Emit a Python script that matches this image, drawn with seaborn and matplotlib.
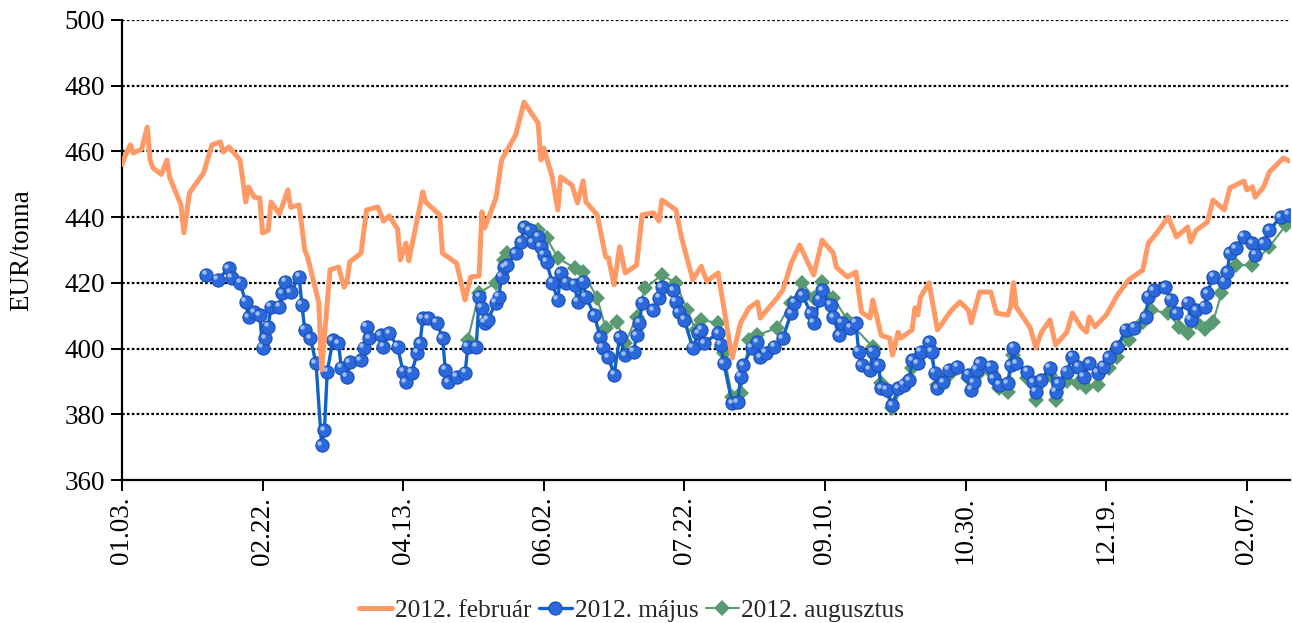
import matplotlib
matplotlib.use("Agg")
import matplotlib.pyplot as plt
import matplotlib.dates as mdates
import matplotlib.transforms as mtransforms
import pandas as pd
import seaborn as sns

# napok 2011.01.03. óta
base_date = pd.Timestamp("2011-01-03")

feb_days = [0, 1, 3, 4, 7, 9, 10, 11, 14, 16, 17, 21, 22, 24, 29, 32, 35, 36, 38, 42,
            44, 45, 47, 49, 50, 52, 53, 56, 59, 60, 63, 65, 66, 70, 71, 74, 77, 79, 80, 81,
            85, 87, 91, 93, 95, 98, 99, 101, 102, 107, 108, 113, 114, 119, 122, 124, 127, 128, 129, 133,
            135, 138, 140, 143, 148, 149, 150, 153, 155, 156, 160, 162, 164, 165, 169, 172, 173, 175, 177, 179,
            183, 185, 189, 191, 192, 197, 199, 203, 206, 208, 212, 217, 220, 223, 226, 227, 230, 233, 235, 238,
            241, 246, 249, 253, 254, 256, 258, 261, 263, 266, 267, 270, 273, 274, 276, 277, 281, 282, 283, 284,
            287, 290, 295, 298, 301, 302, 305, 309, 311, 315, 316, 317, 318, 323, 325, 327, 330, 332, 336, 338,
            341, 343, 344, 346, 350, 354, 358, 363, 365, 368, 372, 375, 379, 380, 382, 386, 388, 392, 394, 399,
            400, 402, 403, 406, 408, 413, 415]
feb_values = [456, 458.4, 462, 459.5, 460.7, 467.4, 457.4, 455, 453, 457.4, 452, 443.7, 435.2, 447.4, 453.4, 462, 462.9, 459.8, 461.4, 457.4,
              444.6, 449.2, 446.1, 445.8, 435.2, 436, 444.6, 441, 448.3, 443, 443.7, 430, 427.9, 414, 393.5, 424, 424.8, 418.7, 420.3, 426.4,
              429, 442.2, 443.1, 438.8, 440.4, 436.4, 427, 432.1, 426.7, 447.7, 444.6, 440.7, 429, 426, 414.8, 421.8, 422.1, 441.6, 436.7, 445.8,
              457.4, 462, 465, 475, 468.6, 457.4, 461, 452.2, 442.2, 452.2, 449.8, 444.3, 451, 444.6, 440.7, 427.9, 427.6, 419.4, 431, 423,
              425.4, 440.7, 441.3, 438.8, 445.2, 442.2, 433.7, 421, 425, 420.5, 423, 397.1, 407.8, 412.4, 414.2, 409.3, 412.4, 415.4, 417.8, 426,
              431.5, 422.4, 433, 429, 424.8, 423.3, 421.8, 423.3, 411.1, 409.3, 414.8, 404, 403.2, 398, 405, 403.2, 405.7, 412.4, 410.2, 415.7,
              420, 405.7, 411.7, 414.2, 411.7, 407.8, 417.2, 417.2, 410.8, 410.2, 412.7, 420, 412.7, 406.3, 400.2, 405, 408.7, 401.1, 405, 410.8,
              406.6, 405, 409.6, 406.6, 410.2, 416.3, 420.9, 423.9, 432.1, 435.2, 440, 434, 437, 432.4, 436, 438.5, 445.2, 442.2, 448.9, 451,
              448.3, 449.2, 446.1, 449.2, 453.7, 458, 457.1]

may_days = [30, 34, 38, 39, 42, 44, 45, 47, 49, 50, 51, 52, 53, 56, 57, 58, 60, 63, 64, 65,
            67, 69, 71, 72, 73, 75, 77, 78, 80, 81, 85, 86, 87, 88, 92, 93, 95, 98, 100, 101,
            103, 105, 106, 107, 109, 112, 114, 115, 116, 119, 122, 123, 126, 127, 128, 129, 130, 133, 134, 135,
            136, 137, 140, 142, 143, 145, 146, 148, 149, 150, 151, 153, 155, 156, 158, 161, 162, 164, 165, 168,
            170, 171, 173, 175, 177, 179, 182, 183, 184, 185, 189, 191, 192, 196, 197, 198, 200, 203, 205, 206,
            207, 212, 213, 214, 217, 219, 220, 221, 224, 226, 227, 229, 232, 235, 238, 239, 242, 245, 246, 248,
            249, 252, 253, 255, 256, 259, 261, 262, 263, 266, 267, 269, 270, 272, 274, 276, 278, 280, 281, 283,
            284, 287, 288, 289, 290, 292, 294, 297, 301, 302, 303, 304, 305, 309, 310, 312, 315, 316, 317, 318,
            322, 324, 325, 327, 330, 332, 333, 336, 338, 340, 342, 344, 347, 349, 351, 354, 357, 360, 364, 365,
            367, 371, 373, 375, 379, 380, 382, 385, 386, 388, 392, 393, 394, 396, 399, 402, 403, 406, 408, 412,
            415]
may_values = [422.4, 420.9, 424.5, 421.5, 420, 414.2, 409.6, 411.1, 410.2, 400.2, 403.2, 406.6, 412.7, 412.7, 416.9, 420.3, 417.2, 421.8, 413.3, 405.7,
              403.2, 395.6, 370.6, 375.2, 392.9, 402.6, 401.7, 394.1, 391.4, 395.9, 396.5, 400.2, 406.6, 403.2, 404.1, 400.5, 404.7, 400.5, 392.9, 389.8,
              392.6, 398.7, 401.7, 409.3, 409.3, 407.8, 403.2, 393.5, 389.8, 391.4, 392.6, 400.5, 400.5, 415.7, 412.4, 407.8, 408.7, 413.9, 415.7, 421.8,
              424.8, 425.4, 429, 432.4, 437, 436, 432.4, 434, 431, 428.5, 426.4, 420, 414.8, 423, 420, 419.4, 414.2, 420.3, 415.7, 410.2,
              403.5, 400.2, 397.4, 392, 403.5, 398, 399, 404.1, 407.8, 413.9, 411.7, 415.4, 418.7, 417.8, 414.2, 411.1, 408.7, 400.2, 404.7, 405.7,
              401.7, 404.7, 401.1, 395.6, 383.4, 383.7, 391.4, 395, 400.2, 402, 397.4, 398.7, 400.5, 403.2, 410.8, 413.9, 416.3, 410.8, 407.8, 414.8,
              417.8, 413.3, 409.6, 404.1, 407.8, 406.3, 407.8, 399, 395, 393.5, 399, 395, 388, 387.4, 382.8, 388, 389, 390.4, 396.5, 395.6,
              399, 402, 399, 392.6, 388, 389.8, 393.5, 394.4, 392, 387.4, 389.8, 393.5, 395.6, 394.4, 391, 389, 389.5, 395, 400.2, 395.6,
              392.9, 389.8, 386.8, 390.4, 394.1, 386.8, 389.5, 393, 397.5, 394.5, 391.4, 395.6, 392.6, 394.4, 397.4, 400.5, 405.7, 406.3, 409.6, 415.7,
              417.8, 418.7, 414.8, 410.8, 413.9, 408.7, 411.7, 412.7, 416.9, 421.8, 420.3, 423.3, 429, 430.6, 434, 432.1, 428.5, 432.1, 436, 440,
              440.7]

aug_days = [123, 127, 133, 136, 137, 148, 151, 155, 161, 164, 169, 172, 176, 179, 183, 186, 192, 197, 201, 204,
            206, 212, 214, 217, 220, 223, 226, 233, 238, 242, 246, 249, 253, 258, 267, 270, 274, 278, 281, 284,
            287, 290, 294, 297, 301, 304, 309, 312, 315, 317, 322, 325, 330, 332, 336, 340, 343, 347, 351, 354,
            358, 363, 366, 372, 376, 379, 382, 385, 388, 391, 396, 402, 408, 414]
aug_values = [402.6, 417, 420, 427, 429, 436, 433.7, 427.6, 424.5, 423.3, 415.4, 406.3, 408, 401.7, 409.6, 418.4, 422.4, 420, 411.7, 405.7,
              408.7, 407.8, 398.7, 385.3, 386.5, 402.6, 404.1, 406.3, 413.9, 420, 415.4, 420.3, 415.4, 408.7, 400.5, 389.5, 382, 389, 394, 398,
              400, 389, 392, 394, 391, 392, 393, 388, 386.8, 398, 391, 384.4, 392, 384.4, 390, 389.5, 388.3, 389, 394, 397.4,
              402.6, 408, 411.7, 410.8, 406.6, 404.7, 408, 406, 408, 416.9, 425.4, 425.4, 431, 437.6]

series_names = ["2012. február", "2012. május", "2012. augusztus"]
y_ticks = [360, 380, 400, 420, 440, 460, 480, 500]


def to_frame(days, values):
    return pd.DataFrame({"date": base_date + pd.to_timedelta(days, unit="D"), "value": values})


sns.set_theme(style="white")
plt.rcParams["font.family"] = ["Liberation Serif", "DejaVu Serif"]
plt.rcParams["font.size"] = 19.5

fig = plt.figure(figsize=(12.92, 6.23), dpi=100)
ax = fig.add_axes([0.0944, 0.2295, 0.9041, 0.7384])

may_df = to_frame(may_days, may_values)

sns.lineplot(data=to_frame(aug_days, aug_values), x="date", y="value", ax=ax,
             color="#5a9a72", linewidth=1.5, marker="D", markersize=8,
             markeredgewidth=0, label=series_names[2], zorder=2)
sns.lineplot(data=may_df, x="date", y="value", ax=ax,
             color="#0f63c8", linewidth=2.4, marker="o", markersize=9.5,
             markerfacecolor="#2a68dc", markeredgecolor="#1b4fb5", markeredgewidth=0.8,
             label=series_names[1], zorder=3)
# fényes gömb hatás a május pontokon
shine = mtransforms.offset_copy(ax.transData, fig=fig, x=-1.8, y=1.8, units="points")
ax.plot(may_df["date"], may_df["value"], linestyle="none", marker="o", markersize=3.2,
        color="#a9c8ff", markeredgewidth=0, alpha=0.9, transform=shine, zorder=3.5)
sns.lineplot(data=to_frame(feb_days, feb_values), x="date", y="value", ax=ax,
             color="#ff9966", linewidth=3.6, label=series_names[0], zorder=4)

ax.set_ylim(360, 500)
ax.set_yticks(y_ticks)
ax.set_xlim(base_date, base_date + pd.Timedelta(days=415.4))
ax.set_xticks(pd.date_range(base_date, periods=9, freq="50D"))
ax.xaxis.set_major_formatter(mdates.DateFormatter("%m.%d."))
plt.setp(ax.get_xticklabels(), rotation=90)

for v in y_ticks[1:]:
    ax.axhline(v, color="black", linewidth=1.6, linestyle=(0, (1.2, 1.0)), zorder=1)

for side in ["top", "right"]:
    ax.spines[side].set_visible(False)
for side in ["left", "bottom"]:
    ax.spines[side].set_color("black")
    ax.spines[side].set_linewidth(1.6)
ax.tick_params(axis="both", direction="out", length=8, width=1.4, color="black",
               labelsize=19.5, labelcolor="black", left=True, bottom=True, pad=4)

ax.set_xlabel("")
ax.set_ylabel("EUR/tonna", fontsize=19.5, color="black", labelpad=22)

handles, labels = ax.get_legend_handles_labels()
order = [labels.index(n) for n in series_names]
ax.get_legend().remove()
fig.legend([handles[i] for i in order], series_names, loc="lower center",
           bbox_to_anchor=(0.489, -0.035), ncol=3, frameon=False, fontsize=18.3,
           handlelength=1.3, handletextpad=0.1, columnspacing=0.3)

fig.savefig("out.png", dpi=100)
plt.close(fig)
